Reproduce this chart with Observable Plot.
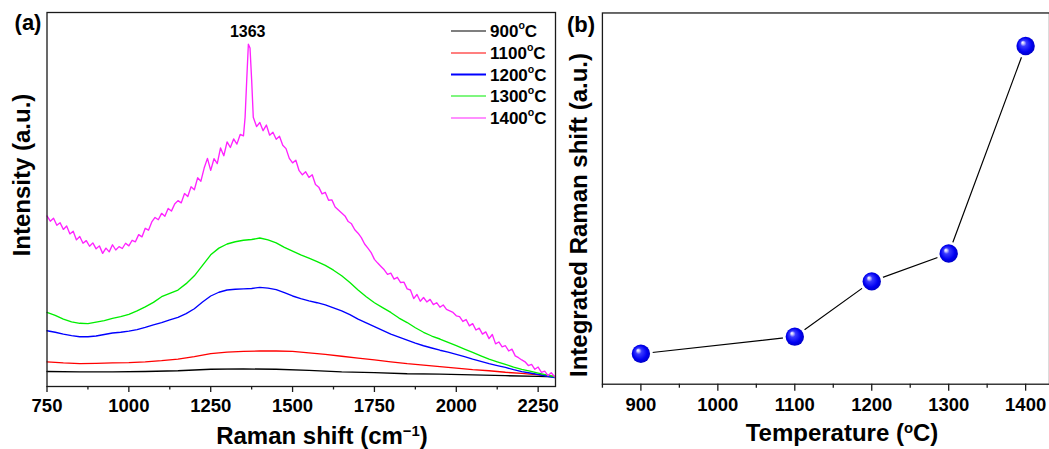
<!DOCTYPE html>
<html><head><meta charset="utf-8">
<script src="https://cdn.jsdelivr.net/npm/d3@7"></script>
<script src="https://cdn.jsdelivr.net/npm/@observablehq/plot@0.6"></script>
<style>
html,body{margin:0;padding:0;background:#fff;}
#wrap{position:relative;width:1049px;height:449px;overflow:hidden;font-family:"Liberation Sans",Arial,sans-serif;font-weight:bold;color:#000;}
#left,#right{position:absolute;top:0;}
#left{left:0;}
#right{left:560px;}
.lab{position:absolute;white-space:nowrap;line-height:1;transform:translate(-50%,-50%);}
.rot{transform:translate(-50%,-50%) rotate(-90deg);}
.sup{font-size:62%;position:relative;top:-0.55em;}
.leg{position:absolute;left:451px;white-space:nowrap;line-height:1;font-size:17px;transform:translateY(-50%);display:flex;align-items:center;}
.leg i{display:inline-block;width:35px;height:1.6px;margin-right:4px;}
</style>
</head><body>
<div id="wrap">
<div id="left"></div>
<div id="right"></div>
</div>
<script>
// ---------- data ----------
const tempLabels = ["900", "1100", "1200", "1300", "1400"];
const tempColors = ["#000000", "#ff0000", "#0000ff", "#00ee00", "#ff22ff"];

const spectrum900 = [[750,4.0],[850,3.9],[950,3.9],[1050,4.0],[1150,4.2],[1250,4.6],[1350,4.7],[1450,4.6],[1550,4.3],[1650,3.9],[1750,3.7],[1850,3.4],[1950,3.3],[2050,3.1],[2150,2.9],[2250,2.7],[2300,2.6]];

const spectrum1100 = [[750,6.6],[800,6.3],[850,6.1],[900,6.2],[950,6.3],[1000,6.4],[1050,6.6],[1100,6.9],[1150,7.3],[1200,8.0],[1250,8.8],[1300,9.2],[1350,9.4],[1400,9.5],[1450,9.5],[1500,9.4],[1550,9.0],[1600,8.6],[1650,8.1],[1700,7.6],[1750,7.1],[1800,6.6],[1850,6.1],[1900,5.7],[1950,5.3],[2000,4.9],[2050,4.5],[2100,4.2],[2150,3.8],[2200,3.5],[2250,3.1],[2300,2.7]];

const spectrum1200 = [[750,14.9],[775,14.5],[800,14.0],[825,13.6],[850,13.3],[875,13.3],[900,13.5],[925,13.9],[950,14.3],[975,14.5],[1000,14.8],[1025,15.2],[1050,15.8],[1075,16.5],[1100,17.1],[1125,17.8],[1150,18.5],[1175,19.5],[1200,20.8],[1225,22.6],[1250,24.2],[1275,25.2],[1300,25.8],[1325,26.0],[1350,26.1],[1375,26.2],[1400,26.5],[1425,26.3],[1450,25.9],[1475,25.1],[1500,24.2],[1525,23.5],[1550,22.9],[1575,22.4],[1600,21.8],[1625,21.0],[1650,20.2],[1675,19.2],[1700,18.0],[1725,17.0],[1750,16.0],[1775,15.0],[1800,14.0],[1825,13.2],[1850,12.4],[1875,11.6],[1900,10.9],[1925,10.3],[1950,9.7],[1975,9.2],[2000,8.6],[2025,8.0],[2050,7.3],[2075,6.7],[2100,6.1],[2125,5.6],[2150,5.1],[2175,4.5],[2200,4.0],[2225,3.6],[2250,3.2],[2275,2.8],[2300,2.4]];

const spectrum1300 = [[750,19.8],[775,19.0],[800,18.0],[825,17.3],[850,16.9],[875,16.8],[900,17.2],[925,17.6],[950,18.2],[975,18.7],[1000,19.3],[1025,20.2],[1050,21.3],[1075,22.5],[1100,24.0],[1125,24.9],[1150,25.8],[1175,27.5],[1200,29.6],[1225,32.4],[1250,35.2],[1275,37.0],[1300,38.1],[1325,38.7],[1350,39.1],[1375,39.3],[1400,39.7],[1425,39.2],[1450,38.4],[1475,37.2],[1500,36.2],[1525,35.2],[1550,34.3],[1575,33.4],[1600,32.4],[1625,31.1],[1650,29.6],[1675,27.8],[1700,25.8],[1725,24.0],[1750,22.4],[1775,21.1],[1800,19.8],[1825,18.3],[1850,17.1],[1875,15.7],[1900,14.5],[1925,13.5],[1950,12.7],[1975,11.8],[2000,10.9],[2025,10.0],[2050,9.1],[2075,8.2],[2100,7.3],[2125,6.6],[2150,5.9],[2175,5.2],[2200,4.6],[2225,4.1],[2250,3.6],[2275,3.1],[2300,2.6]];

const spectrum1400 = [[750,45.6],[760,44.2],[770,45.0],[780,43.1],[790,43.8],[800,42.0],[810,42.9],[820,40.8],[830,41.5],[840,39.2],[850,40.1],[860,38.3],[870,39.0],[880,37.5],[890,38.4],[900,36.8],[910,37.6],[920,35.6],[930,37.0],[940,36.0],[950,37.9],[960,36.5],[970,37.4],[980,36.9],[990,38.3],[1000,37.6],[1010,39.1],[1020,38.7],[1030,40.6],[1040,40.0],[1050,42.3],[1060,41.8],[1070,44.0],[1080,45.2],[1090,44.6],[1100,46.3],[1110,45.5],[1120,47.6],[1130,46.9],[1140,48.8],[1150,49.7],[1160,49.1],[1170,51.6],[1180,50.8],[1190,53.4],[1200,52.6],[1210,55.8],[1220,54.9],[1230,58.4],[1240,61.0],[1250,57.8],[1260,60.9],[1270,59.6],[1280,63.8],[1290,61.7],[1300,65.4],[1310,63.9],[1320,66.2],[1330,64.8],[1340,67.4],[1350,67.0],[1355,72.0],[1360,82.0],[1365,91.5],[1370,90.5],[1375,82.0],[1380,72.0],[1390,69.5],[1400,70.6],[1410,68.4],[1420,69.9],[1430,67.2],[1440,68.0],[1450,66.1],[1460,66.9],[1470,64.5],[1480,63.6],[1490,61.0],[1500,59.8],[1510,60.5],[1520,57.7],[1530,56.6],[1540,57.4],[1550,55.9],[1560,56.6],[1570,54.0],[1580,53.3],[1590,51.5],[1600,51.9],[1610,49.8],[1620,49.9],[1630,48.0],[1640,47.2],[1650,46.4],[1660,45.6],[1670,44.1],[1680,43.5],[1690,41.9],[1700,41.0],[1710,39.8],[1720,38.1],[1730,37.0],[1740,35.8],[1750,34.0],[1760,33.0],[1770,32.1],[1780,31.2],[1790,30.0],[1800,30.3],[1810,28.7],[1820,29.2],[1830,27.8],[1840,27.9],[1850,26.1],[1860,25.8],[1870,23.5],[1880,24.6],[1890,22.8],[1900,23.8],[1910,22.6],[1920,23.3],[1930,21.9],[1940,22.4],[1950,21.2],[1960,21.8],[1970,20.6],[1980,20.2],[1990,19.8],[2000,18.9],[2010,18.7],[2020,17.4],[2030,17.9],[2040,16.2],[2050,16.8],[2060,15.1],[2070,15.6],[2080,14.0],[2090,14.6],[2100,12.8],[2110,13.9],[2120,11.4],[2130,11.9],[2140,10.6],[2150,10.9],[2160,9.5],[2170,10.0],[2180,8.2],[2190,7.7],[2200,7.1],[2210,6.6],[2220,5.6],[2230,5.9],[2240,4.6],[2250,5.2],[2260,3.8],[2270,4.1],[2280,2.9],[2290,3.7],[2300,2.6]];

const peakShift = 1363;
const peakIntensity = 91.5;

const ramanMajorTicks = [750, 1000, 1250, 1500, 1750, 2000, 2250];
const ramanMinorTicks = [875, 1125, 1375, 1625, 1875, 2125];

const temperatures = [900, 1100, 1200, 1300, 1400];
const integratedShift = [8.2, 12.8, 27.7, 35.2, 91.1];
const tempMajorTicks = [900, 1000, 1100, 1200, 1300, 1400];
const tempMinorTicks = [850, 950, 1050, 1150, 1250, 1350];

// ---------- build ----------
const FONT = '"Liberation Sans", Arial, sans-serif';
const spectraList = [spectrum900, spectrum1100, spectrum1200, spectrum1300, spectrum1400];
const rows = [];
spectraList.forEach((arr, i) => arr.forEach(([s, v]) => rows.push({shift: s, intensity: v, temp: tempLabels[i]})));

const tickStyle = {color: "#1a1a1a", strokeWidth: 1.3, label: null, tickFormat: () => ""};
const tickText = {text: d => String(d), frameAnchor: "bottom", lineAnchor: "middle", fontSize: 18.5, fontWeight: "bold", fill: "#000"};

const leftPlot = Plot.plot({
  width: 560, height: 449,
  marginLeft: 46.5, marginRight: 5, marginTop: 12, marginBottom: 63,
  style: {fontFamily: FONT, fontWeight: "bold", fontSize: "17px", color: "#000", background: "transparent", overflow: "visible"},
  x: {domain: [750, 2303]},
  y: {domain: [0, 100], axis: null},
  color: {domain: tempLabels, range: tempColors},
  marks: [
    Plot.line(rows, {x: "shift", y: "intensity", z: "temp", stroke: "temp", strokeWidth: 1.35}),
    Plot.frame({stroke: "#1a1a1a", strokeWidth: 1.3}),
    Plot.axisX({...tickStyle, ticks: ramanMajorTicks, tickSize: 6}),
    Plot.axisX({...tickStyle, ticks: ramanMinorTicks, tickSize: 3.5}),
    Plot.text(ramanMajorTicks, {...tickText, x: d => d, dy: 19.5}),
    Plot.text([{shift: peakShift, intensity: peakIntensity}], {x: "shift", y: "intensity", text: d => String(d.shift), fontSize: 16, fontWeight: "bold", fill: "#000", dy: -12, lineAnchor: "middle"})
  ]
});
document.getElementById("left").appendChild(leftPlot);

const points = temperatures.map((t, i) => ({temp: t, value: integratedShift[i]}));
const rightPlot = Plot.plot({
  width: 490, height: 449,
  marginLeft: 42, marginRight: 0, marginTop: 12.5, marginBottom: 64.5,
  style: {fontFamily: FONT, fontWeight: "bold", fontSize: "17px", color: "#000", background: "transparent", overflow: "visible"},
  x: {domain: [850, 1431]},
  y: {domain: [0, 100], axis: null},
  marks: [
    Plot.line(points, {x: "temp", y: "value", stroke: "#000", strokeWidth: 1.2}),
    Plot.dot(points, {x: "temp", y: "value", r: 12, fill: "#fff", stroke: "none"}),
    Plot.dot(points, {x: "temp", y: "value", r: 9.2, fill: "url(#ball)", stroke: "none"}),
    Plot.frame({stroke: "#1a1a1a", strokeWidth: 1.3}),
    Plot.axisX({...tickStyle, ticks: tempMajorTicks, tickSize: 7}),
    Plot.axisX({...tickStyle, ticks: tempMinorTicks, tickSize: 4}),
    Plot.text(tempMajorTicks, {...tickText, x: d => d, dy: 20.5})
  ]
});
const defs = d3.select(rightPlot).insert("defs", ":first-child");
const g = defs.append("radialGradient").attr("id", "ball").attr("cx", "50%").attr("cy", "50%").attr("r", "55%").attr("fx", "33%").attr("fy", "30%");
[[0, "#ffffff"], [0.12, "#c8c8ff"], [0.3, "#3a3aff"], [0.7, "#0000f2"], [1, "#0000b8"]].forEach(([o, c]) => g.append("stop").attr("offset", o).attr("stop-color", c));
document.getElementById("right").appendChild(rightPlot);

// ---------- text overlays ----------
const wrap = document.getElementById("wrap");
function label(html, x, y, size, cls) {
  const d = document.createElement("div");
  d.className = "lab" + (cls ? " " + cls : "");
  d.style.left = x + "px"; d.style.top = y + "px"; d.style.fontSize = size + "px";
  d.innerHTML = html;
  wrap.appendChild(d);
  return d;
}
label("(a)", 28, 23, 22);
label("(b)", 581, 25, 22);
label("Intensity (a.u.)", 22, 175, 24, "rot");
label("Integrated Raman shift (a.u.)", 579, 215, 24, "rot");
label('Raman shift (cm<span class="sup">\u22121</span>)', 322, 436, 24);
label('Temperature (<span class="sup">o</span>C)', 842, 433, 24);

const legendY = [31, 53, 74.5, 96, 118];
tempLabels.forEach((t, i) => {
  const d = document.createElement("div");
  d.className = "leg";
  d.style.top = legendY[i] + "px";
  d.innerHTML = '<i style="background:' + tempColors[i] + '"></i>' + t + '<span class="sup">o</span>C';
  wrap.appendChild(d);
});
</script>
</body></html>
